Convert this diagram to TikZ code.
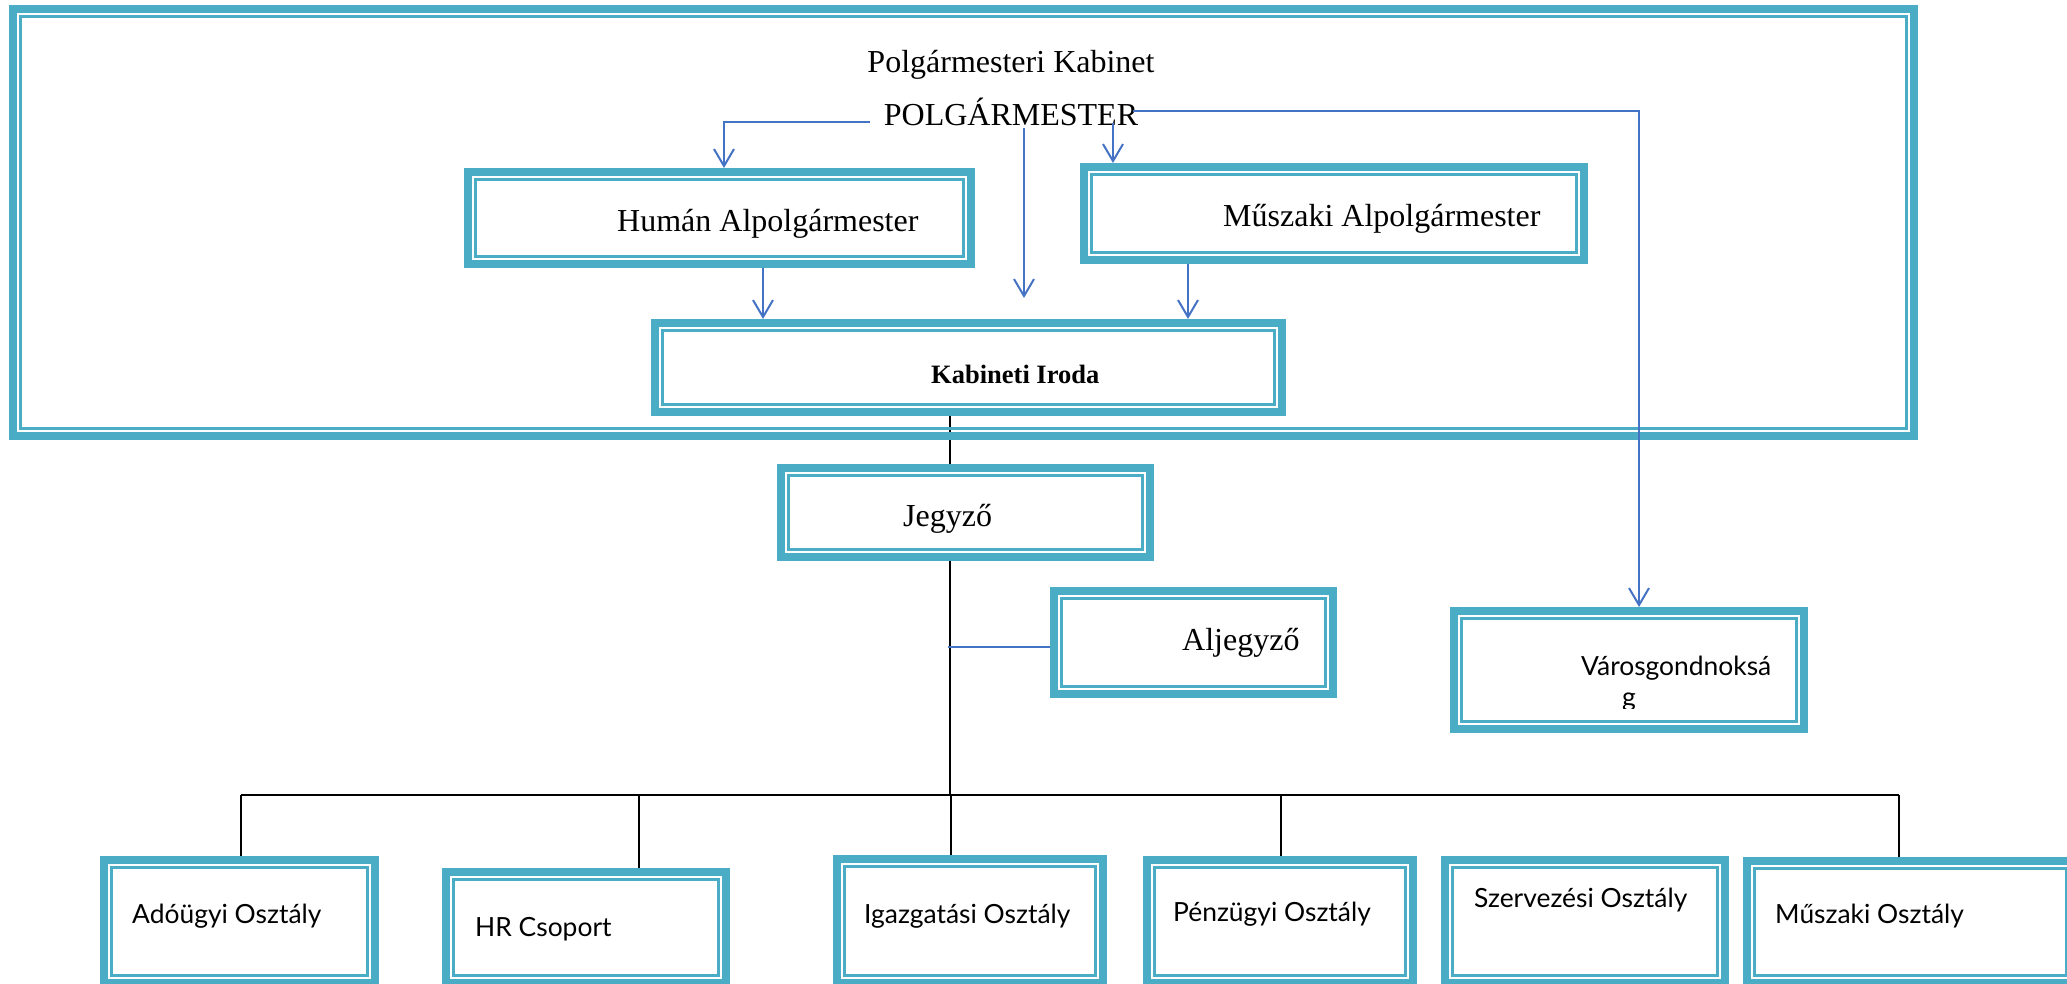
\documentclass[tikz,border=0pt]{standalone}
\usepackage{fontspec}
\setmainfont{Liberation Serif}
\newfontfamily\osans{Lato}
\usetikzlibrary{arrows.meta,calc}
\definecolor{aqua}{HTML}{4BACC6}
\definecolor{conn}{HTML}{4472C4}
\tikzset{
  dbox/.style={draw=aqua, line width=8pt, inner sep=0pt, rectangle,
    path picture={\draw[aqua,line width=2.5pt]
      ([shift={(7.5pt,-7.5pt)}]path picture bounding box.north west) rectangle
      ([shift={(-7.5pt,7.5pt)}]path picture bounding box.south east);}},
  tser/.style={font=\fontsize{32}{38}\selectfont, inner sep=0pt},
  tbold/.style={font=\bfseries\fontsize{26.5}{32}\selectfont, inner sep=0pt},
  tsans/.style={font=\osans\fontsize{26.4}{32}\selectfont, inner sep=0pt},
  arr/.style={draw=conn, line width=2pt, -{Straight Barb[length=17pt,width=20pt,line width=2pt]}},
  bline/.style={draw=conn, line width=2pt},
  kline/.style={draw=black, line width=2pt},
}
\newcommand\mkbox[5]{\node[dbox, minimum width={#4-#2-8}, minimum height={#5-#3-8}] (#1) at ({(#2+#4)/2},{(#3+#5)/2}) {};}
\begin{document}
\begin{tikzpicture}[x=1pt,y=-1pt]
\useasboundingbox (0,0) rectangle (2067,984);
% coordinates
\coordinate (spineTop) at (950,416);
\coordinate (busL) at (241,795);
\coordinate (busR) at (1899,795);
% boxes
\mkbox{kab}{9}{5}{1918}{440}
\mkbox{human}{464}{168}{975}{268}
\mkbox{muszaki}{1080}{163}{1588}{264}
\mkbox{iroda}{651}{319}{1286}{416}
\mkbox{jegyzo}{777}{464}{1154}{561}
\mkbox{aljegyzo}{1050}{587}{1337}{698}
\mkbox{varos}{1450}{607}{1808}{733}
\mkbox{ado}{100}{856}{379}{987}
\mkbox{hr}{442}{868}{730}{987}
\mkbox{igaz}{833}{855}{1107}{987}
\mkbox{penz}{1143}{856}{1417}{987}
\mkbox{szerv}{1441}{856}{1729}{987}
\mkbox{muszo}{1743}{857}{2078}{987}
% black connectors
\draw[kline] (spineTop |- iroda.south) -- (spineTop |- jegyzo.north);
\draw[kline] (spineTop |- jegyzo.south) -- (spineTop |- busL);
\draw[kline] (busL) -- (busR);
\draw[kline] (busL) -- (busL |- ado.north);
\draw[kline] (639,795) -- (639,868);
\draw[kline] (951,795) -- (951,855);
\draw[kline] (1281,795) -- (1281,856);
\draw[kline] (busR) -- (busR |- muszo.north);
% redraw kabinet box band over black line
\mkbox{kab2}{9}{5}{1918}{440}
% texts
\node[tser, anchor=base] (title) at (1011,73) {Polgármesteri Kabinet};
\node[tser, anchor=base] (pol) at (1011,126) {POLGÁRMESTER};
\node[tser, anchor=base west] (thuman) at (617,232) {Humán Alpolgármester};
\node[tser, anchor=base west] (tmusz) at (1223,227) {Műszaki Alpolgármester};
\node[tbold, anchor=base west] (tiroda) at (931,383) {Kabineti Iroda};
\node[tser, anchor=base west] (tjegy) at (903,526) {Jegyző};
\node[tser, anchor=base west] (talj) at (1182,650) {Aljegyző};
\node[tsans, anchor=base west] (tvar) at (1581,675) {Városgondnoksá};
\begin{scope}
\clip (1600,685) rectangle (1660,708);
\node[tsans, anchor=base west] (tvar2) at (1622,706) {g};
\end{scope}
\node[tsans, anchor=base west] (tado) at (132,923) {Adóügyi Osztály};
\node[tsans, anchor=base west] (thr) at (475,936) {HR Csoport};
\node[tsans, anchor=base west] (tigaz) at (864,923) {Igazgatási Osztály};
\node[tsans, anchor=base west] (tpenz) at (1173,921) {Pénzügyi Osztály};
\node[tsans, anchor=base west] (tszerv) at (1474,907) {Szervezési Osztály};
\node[tsans, anchor=base west] (tmuszo) at (1775,923) {Műszaki Osztály};
% blue connectors
\coordinate (pL) at (870,122);
\coordinate (pC) at (1024,128);
\coordinate (pCe) at (1024,298);
\coordinate (pR) at (1113,123);
\coordinate (pE) at (1133,111);
\coordinate (aj) at (948,647);
\draw[arr] (pL) -| ([xshift=4.5pt]human.north);
\draw[arr] (pC) -- (pCe);
\draw[arr] (pR) -- (pR |- muszaki.north);
\draw[arr] (pE) -| ([xshift=10pt]varos.north);
\draw[arr] ([xshift=43.5pt]human.south) -- ([xshift=43.5pt]human.south |- iroda.north);
\draw[arr] ([xshift=-146pt]muszaki.south) -- ([xshift=-146pt]muszaki.south |- iroda.north);
\draw[bline] (aj) -- (aj -| aljegyzo.west);
\end{tikzpicture}
\end{document}
